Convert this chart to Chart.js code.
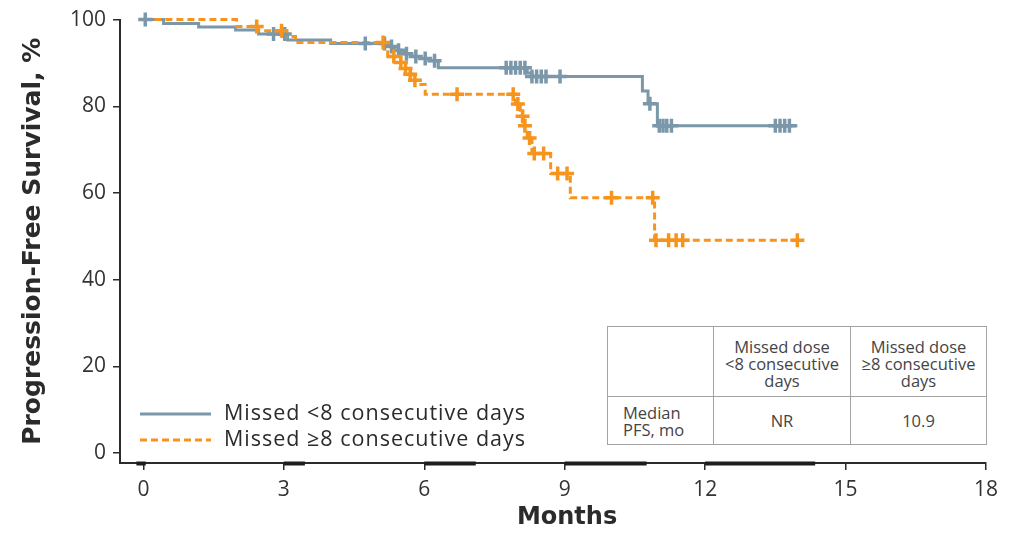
<!DOCTYPE html>
<html>
<head>
<meta charset="utf-8">
<script src="https://cdn.jsdelivr.net/npm/chart.js@4/dist/chart.umd.min.js"></script>
<style>
  html, body { margin: 0; padding: 0; background: #fff; }
  #wrap { position: relative; width: 1009px; height: 533px; }
  canvas { display: block; }
  table.pfs {
    position: absolute; left: 607px; top: 326px;
    border-collapse: collapse; background: #fff;
    font-family: "Open Sans", sans-serif; font-size: 16.5px; color: #444;
  }
  table.pfs td { border: 1px solid #a3a3a3; text-align: center; line-height: 17px; padding: 0; }
  table.pfs tr.head td { padding-top: 4px; }
  table.pfs td.rowhead { text-align: left; padding-left: 15px; }
</style>
</head>
<body>
<div id="wrap">
  <canvas id="km" width="1009" height="533"></canvas>
  <table class="pfs" id="pfsTable"></table>
</div>
<script>
// Series names
const seriesNames = ['Missed <8 consecutive days', 'Missed \u22658 consecutive days'];

// Kaplan-Meier steps: time (months) where the estimate changes, and the estimate (%) from that time on
const shortTimes  = [0, 0.43, 1.18, 1.97, 2.46, 3.08, 4.0, 5.2, 5.35, 5.5, 5.7, 5.9, 6.1, 6.3, 8.2, 8.3, 10.66, 10.78, 10.98, 13.97];
const shortValues = [100, 99.1, 98.3, 97.6, 96.7, 95.3, 94.5, 93.8, 92.9, 92.1, 91.5, 91.0, 90.5, 88.9, 87.7, 86.9, 83.5, 80.6, 75.5, 75.5];
const shortCensored = [0.04, 2.78, 3.02, 4.74, 5.15, 5.3, 5.45, 5.62, 5.82, 6.02, 6.22, 7.75, 7.85, 7.95, 8.05, 8.15, 8.3, 8.4, 8.5, 8.6, 8.9, 10.82, 11.02, 11.1, 11.18, 11.28, 13.5, 13.6, 13.7, 13.8];

const longTimes  = [0, 1.99, 2.45, 2.98, 3.25, 5.22, 5.45, 5.55, 5.65, 5.75, 5.88, 6.02, 7.95, 8.05, 8.12, 8.2, 8.3, 8.7, 9.12, 10.92, 13.97];
const longValues = [100, 98.4, 97.4, 96.1, 94.7, 91.5, 90.1, 88.7, 87.4, 86.0, 85.0, 82.8, 80.5, 77.7, 75.5, 72.7, 69.1, 64.5, 58.9, 49.1, 49.1];
const longCensored = [2.42, 2.95, 5.12, 5.35, 5.5, 5.6, 5.7, 5.8, 6.7, 7.9, 8.0, 8.1, 8.15, 8.25, 8.35, 8.55, 8.85, 9.05, 10.0, 10.88, 10.95, 11.22, 11.38, 11.52, 13.97];

// Axis ticks and titles
const monthTicks = [0, 3, 6, 9, 12, 15, 18];
const pfsTicks = [0, 20, 40, 60, 80, 100];
const xTitle = 'Months';
const yTitle = 'Progression-Free Survival, %';

// Heavier stretches of the time axis line (months)
const axisHeavySpans = [[-0.15, 0.05], [3.0, 3.45], [6.0, 7.1], [9.0, 10.75], [12.0, 14.35]];

// Median PFS table
const tableHeaders = ['Missed dose<br>&lt;8 consecutive<br>days', 'Missed dose<br>\u22658 consecutive<br>days'];
const tableRowLabel = 'Median<br>PFS, mo';
const medianPFS = ['NR', '10.9'];

const GRAY = '#7b97aa';
const ORANGE = '#f7941d';
const INK = '#2b2b2b';

// Build the table
(function () {
  const t = document.getElementById('pfsTable');
  t.innerHTML =
    '<tr class="head" style="height:70px"><td style="width:105px"></td>' +
    '<td style="width:136px">' + tableHeaders[0] + '</td>' +
    '<td style="width:135px">' + tableHeaders[1] + '</td></tr>' +
    '<tr style="height:48px"><td class="rowhead">' + tableRowLabel + '</td>' +
    '<td>' + medianPFS[0] + '</td><td>' + medianPFS[1] + '</td></tr>';
})();

function stepPoints(times, values) {
  return times.map((t, i) => ({ x: t, y: values[i] }));
}
function levelAt(times, values, t) {
  let v = values[0];
  for (let i = 0; i < times.length; i++) if (times[i] <= t) v = values[i];
  return v;
}
function censorPoints(marks, times, values) {
  return marks.map(t => ({ x: t, y: levelAt(times, values, t) }));
}

// Legend inside the lower-left of the plot
const legendPlugin = {
  id: 'kmLegend',
  afterDatasetsDraw(chart) {
    const { ctx, chartArea } = chart;
    ctx.save();
    [0, 1].forEach(i => {
      const ds = chart.data.datasets[i];
      const y = chartArea.bottom - 49 + i * 26;
      const x0 = chartArea.left + 20;
      ctx.beginPath();
      ctx.setLineDash(ds.borderDash || []);
      ctx.strokeStyle = ds.borderColor;
      ctx.lineWidth = ds.borderWidth;
      ctx.moveTo(x0, y);
      ctx.lineTo(x0 + 71, y);
      ctx.stroke();
      ctx.setLineDash([]);
      ctx.fillStyle = INK;
      ctx.font = '21.5px "Open Sans", sans-serif';
      ctx.letterSpacing = '1px';
      ctx.textBaseline = 'middle';
      ctx.fillText(ds.label, x0 + 84, y);
      ctx.letterSpacing = '0px';
    });
    ctx.restore();
  }
};

// Thicker axis stretches and the time axis title
const axisDecorPlugin = {
  id: 'axisDecor',
  afterDraw(chart) {
    const { ctx, chartArea, scales } = chart;
    ctx.save();
    ctx.strokeStyle = '#1e1e1e';
    ctx.lineWidth = 4;
    axisHeavySpans.forEach(([a, b]) => {
      ctx.beginPath();
      ctx.moveTo(scales.x.getPixelForValue(a), chartArea.bottom + 0.5);
      ctx.lineTo(scales.x.getPixelForValue(b), chartArea.bottom + 0.5);
      ctx.stroke();
    });
    ctx.fillStyle = INK;
    ctx.font = 'bold 24px "DejaVu Sans", sans-serif';
    ctx.textAlign = 'center';
    ctx.textBaseline = 'middle';
    ctx.fillText(xTitle, scales.x.getPixelForValue(9.05), chart.height - 15);
    ctx.restore();
  }
};

new Chart(document.getElementById('km'), {
  type: 'line',
  data: {
    datasets: [
      {
        label: seriesNames[0], data: stepPoints(shortTimes, shortValues),
        stepped: true, borderColor: GRAY, borderWidth: 3, pointRadius: 0,
        order: 4, clip: false
      },
      {
        label: seriesNames[1], data: stepPoints(longTimes, longValues),
        stepped: true, borderColor: ORANGE, borderWidth: 3, borderDash: [7, 4],
        pointRadius: 0, order: 3, clip: false
      },
      {
        label: seriesNames[0] + ' censored', data: censorPoints(shortCensored, shortTimes, shortValues),
        showLine: false, pointStyle: 'cross', pointRadius: 7, pointBorderWidth: 3.5,
        pointBorderColor: GRAY, borderColor: GRAY, order: 2, clip: false
      },
      {
        label: seriesNames[1] + ' censored', data: censorPoints(longCensored, longTimes, longValues),
        showLine: false, pointStyle: 'cross', pointRadius: 7, pointBorderWidth: 3.5,
        pointBorderColor: ORANGE, borderColor: ORANGE, order: 1, clip: false
      }
    ]
  },
  options: {
    responsive: false,
    animation: false,
    layout: { padding: { left: 0, right: 23, top: 18, bottom: 0 } },
    plugins: { legend: { display: false }, tooltip: { enabled: false } },
    scales: {
      x: {
        type: 'linear', min: -0.5, max: 18,
        afterBuildTicks: s => { s.ticks = monthTicks.map(v => ({ value: v })); },
        afterFit: s => { s.height = 70; },
        ticks: { color: '#333', font: { family: 'Open Sans', size: 21 }, padding: 7, maxRotation: 0 },
        grid: { drawOnChartArea: false, drawTicks: true, tickLength: 7, color: INK, lineWidth: 1.5 },
        border: { display: true, color: INK, width: 2 },
        title: { display: false }
      },
      y: {
        type: 'linear', min: -2.3, max: 100,
        afterBuildTicks: s => { s.ticks = pfsTicks.map(v => ({ value: v })); },
        afterFit: s => { s.width = 120; },
        ticks: { color: '#333', font: { family: 'Open Sans', size: 21 }, padding: 7 },
        grid: { drawOnChartArea: false, drawTicks: true, tickLength: 7, color: INK, lineWidth: 1.5 },
        border: { display: true, color: INK, width: 2 },
        title: { display: true, text: yTitle, color: INK,
                 font: { family: 'DejaVu Sans', size: 25, weight: 'bold' }, padding: { top: 18, bottom: 0 } }
      }
    }
  },
  plugins: [legendPlugin, axisDecorPlugin]
});
</script>
</body>
</html>
